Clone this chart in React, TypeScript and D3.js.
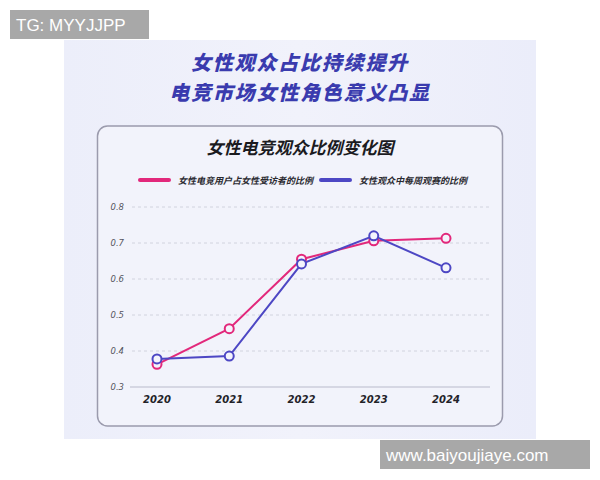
import React from "react";
import * as d3 from "d3";

const years = ["2020", "2021", "2022", "2023", "2024"];
const femaleUserShare = [0.363, 0.462, 0.655, 0.706, 0.713];
const weeklyWatchShare = [0.378, 0.386, 0.642, 0.72, 0.631];
const yTicks = [0.3, 0.4, 0.5, 0.6, 0.7, 0.8];
const seriesNames = ["女性电竞用户占女性受访者的比例", "女性观众中每周观赛的比例"];
const seriesColors = ["#e2287b", "#4d47c4"];
const titleLines = ["女性观众占比持续提升", "电竞市场女性角色意义凸显"];
const chartTitle = "女性电竞观众比例变化图";

const CJK = "'Noto Sans CJK SC', 'Noto Sans', sans-serif";

export default function App() {
  const x = d3.scalePoint<string>().domain(years).range([157, 446]);
  const y = d3.scaleLinear().domain([0.3, 0.8]).range([387, 207]);
  const line = d3
    .line<number>()
    .x((_, i) => x(years[i]) as number)
    .y((d) => y(d));
  const series = [femaleUserShare, weeklyWatchShare];

  return (
    <svg
      width={600}
      height={480}
      style={{ position: "absolute", left: 0, top: 0, background: "#ffffff" }}
    >
      <defs>
        <linearGradient id="bg" x1="0" y1="0" x2="1" y2="0">
          <stop offset="0" stopColor="#eceefa" />
          <stop offset="0.5" stopColor="#f1f2fb" />
          <stop offset="1" stopColor="#ebedfa" />
        </linearGradient>
      </defs>
      <rect x={64} y={40} width={472} height={399} fill="url(#bg)" />
      {/* watermark boxes */}
      <rect x={10} y={10} width={139} height={29} fill="#a8a8a8" />
      <text x={16} y={31} fill="#ffffff" fontSize={17} fontFamily="'Liberation Sans', Arial, sans-serif">
        TG: MYYJJPP
      </text>
      <rect x={380} y={440} width={210} height={29} fill="#a8a8a8" />
      <text x={386} y={461} fill="#ffffff" fontSize={17} fontFamily="'Liberation Sans', Arial, sans-serif">
        www.baiyoujiaye.com
      </text>

      {/* main titles */}
      {titleLines.map((t, i) => (
        <text
          key={t}
          x={300}
          y={70 + i * 29.5}
          textAnchor="middle"
          fill="#3a3bae"
          fontSize={20}
          fontWeight={900}
          fontStyle="italic"
          letterSpacing={1.8}
          fontFamily={CJK}
        >
          {t}
        </text>
      ))}

      {/* card */}
      <rect x={97.5} y={126} width={405} height={300} rx={10} fill="#f2f3fb" stroke="#9b9bad" strokeWidth={1.5} />
      <text x={300} y={154} textAnchor="middle" fontSize={17} fontWeight={700} fontStyle="italic" fill="#1b1b1f" fontFamily={CJK}>
        {chartTitle}
      </text>

      {/* legend */}
      {seriesNames.map((n, i) => {
        const lx = i === 0 ? 140 : 321;
        return (
          <g key={n}>
            <line x1={lx} x2={lx + 29} y1={180} y2={180} stroke={seriesColors[i]} strokeWidth={4} strokeLinecap="round" />
            <text x={lx + 38} y={183.5} fontSize={9} fontWeight={700} fontStyle="italic" fill="#2a2a30" fontFamily={CJK}>
              {n}
            </text>
          </g>
        );
      })}

      {/* grid */}
      {yTicks.map((t) => (
        <g key={t}>
          {t > 0.3 ? (
            <line x1={132} x2={490} y1={y(t)} y2={y(t)} stroke="#c9cad8" strokeWidth={0.8} strokeDasharray="3,3" />
          ) : (
            <line x1={130} x2={490} y1={y(t)} y2={y(t)} stroke="#b9bacb" strokeWidth={1} />
          )}
          <text x={124} y={y(t) + 3} textAnchor="end" fontSize={8.5} fontStyle="italic" fill="#555560" fontFamily="'DejaVu Sans', sans-serif">
            {t.toFixed(1)}
          </text>
        </g>
      ))}
      {years.map((yr) => (
        <text
          key={yr}
          x={x(yr) as number}
          y={403}
          textAnchor="middle"
          fontSize={10}
          fontWeight={700}
          fontStyle="italic"
          fill="#222228"
          fontFamily="'DejaVu Sans', sans-serif"
        >
          {yr}
        </text>
      ))}

      {/* lines */}
      {series.map((s, i) => (
        <path key={i} d={line(s) || ""} fill="none" stroke={seriesColors[i]} strokeWidth={2} />
      ))}
      {series.map((s, i) =>
        s.map((v, j) => (
          <circle
            key={`${i}-${j}`}
            cx={x(years[j]) as number}
            cy={y(v)}
            r={4.5}
            fill="#f4f4fc"
            stroke={seriesColors[i]}
            strokeWidth={2}
          />
        ))
      )}
    </svg>
  );
}
